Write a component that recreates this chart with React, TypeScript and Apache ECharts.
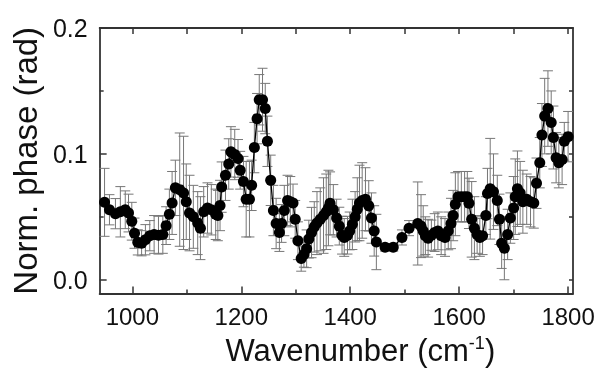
import React, { useEffect, useRef } from "react";
import * as echarts from "echarts";

const wavenumbers = [
  949, 958, 969, 978, 987, 993, 999, 1004, 1010, 1017, 1024, 1032, 1040, 1048, 1056, 1062, 1068, 1073, 1079, 1087,
  1094, 1099, 1105, 1112, 1120, 1125, 1131, 1138, 1145, 1153, 1157, 1161, 1164, 1171, 1177, 1181, 1188, 1194, 1198, 1204,
  1209, 1215, 1219, 1224, 1229, 1233, 1239, 1244, 1248, 1254, 1259, 1264, 1270, 1274, 1279, 1285, 1290, 1295, 1299, 1304,
  1310, 1315, 1320, 1324, 1329, 1334, 1339, 1345, 1351, 1356, 1360, 1363, 1369, 1375, 1380, 1385, 1389, 1395, 1399, 1404,
  1409, 1413, 1417, 1422, 1428, 1434, 1439, 1444, 1448, 1464, 1479, 1495, 1508, 1524, 1530, 1534, 1538, 1543, 1549, 1555,
  1561, 1567, 1574, 1580, 1585, 1589, 1593, 1598, 1604, 1610, 1615, 1618, 1623, 1628, 1633, 1638, 1643, 1649, 1652, 1657,
  1663, 1670, 1674, 1678, 1683, 1689, 1694, 1700, 1703, 1707, 1712, 1717, 1724, 1731, 1737, 1742, 1748, 1752, 1757, 1763,
  1769, 1773, 1778, 1783, 1789, 1793, 1800,
];

const phase = [
  0.0615, 0.0556, 0.0525, 0.054, 0.0556, 0.053, 0.0465, 0.037, 0.0297, 0.029, 0.0318, 0.035, 0.036, 0.0354, 0.036, 0.043, 0.052, 0.061, 0.073, 0.0716,
  0.069, 0.062, 0.053, 0.05, 0.045, 0.041, 0.054, 0.057, 0.0556, 0.052, 0.051, 0.059, 0.0736, 0.083, 0.092, 0.1016, 0.0995, 0.0964, 0.087, 0.078,
  0.064, 0.064, 0.075, 0.105, 0.128, 0.143, 0.143, 0.136, 0.11, 0.079, 0.055, 0.0447, 0.0375, 0.0447, 0.055, 0.063, 0.062, 0.061, 0.048, 0.031,
  0.0168, 0.02, 0.0246, 0.0323, 0.0375, 0.042, 0.045, 0.048, 0.051, 0.054, 0.057, 0.0607, 0.0556, 0.049, 0.0426, 0.0354, 0.0336, 0.0354, 0.0388, 0.044,
  0.05, 0.056, 0.061, 0.063, 0.064, 0.0587, 0.049, 0.0388, 0.03, 0.0258, 0.0258, 0.0336, 0.041, 0.0447, 0.0426, 0.0388, 0.035, 0.033, 0.0354, 0.0375,
  0.0388, 0.035, 0.0336, 0.0388, 0.0447, 0.051, 0.06, 0.066, 0.066, 0.066, 0.066, 0.0607, 0.048, 0.041, 0.036, 0.0336, 0.035, 0.051, 0.0685, 0.0723,
  0.07, 0.063, 0.048, 0.029, 0.025, 0.036, 0.049, 0.057, 0.066, 0.0723, 0.069, 0.062, 0.064, 0.062, 0.061, 0.0767, 0.093, 0.115, 0.13, 0.136,
  0.125, 0.113, 0.097, 0.093, 0.0956, 0.11, 0.1137,
];

const phaseErr = [
  0.027, 0.012, 0.012, 0.02, 0.015, 0.015, 0.015, 0.012, 0.01, 0.01, 0.012, 0.012, 0.015, 0.015, 0.015, 0.015, 0.02, 0.025, 0.022, 0.045,
  0.045, 0.03, 0.03, 0.025, 0.025, 0.025, 0.02, 0.02, 0.02, 0.02, 0.02, 0.02, 0.02, 0.02, 0.02, 0.02, 0.02, 0.015, 0.015, 0.02,
  0.03, 0.03, 0.02, 0.02, 0.02, 0.02, 0.025, 0.02, 0.02, 0.02, 0.02, 0.02, 0.015, 0.015, 0.02, 0.02, 0.02, 0.015, 0.015, 0.015,
  0.01, 0.01, 0.015, 0.015, 0.02, 0.02, 0.025, 0.025, 0.03, 0.03, 0.03, 0.025, 0.02, 0.015, 0.015, 0.015, 0.015, 0.015, 0.015, 0.02,
  0.02, 0.025, 0.03, 0.03, 0.025, 0.02, 0.02, 0.02, 0.022, 0.003, 0.003, 0.006, 0.006, 0.033, 0.025, 0.02, 0.015, 0.015, 0.012, 0.015,
  0.015, 0.015, 0.015, 0.015, 0.02, 0.02, 0.025, 0.02, 0.02, 0.02, 0.02, 0.02, 0.03, 0.025, 0.015, 0.015, 0.015, 0.015, 0.02, 0.04,
  0.03, 0.02, 0.02, 0.02, 0.025, 0.02, 0.02, 0.025, 0.03, 0.03, 0.025, 0.025, 0.02, 0.02, 0.02, 0.02, 0.02, 0.025, 0.03, 0.03,
  0.025, 0.025, 0.02, 0.02, 0.02, 0.015, 0.02,
];

const xMajorTicks = [1000, 1200, 1400, 1600, 1800];
const xMinorTicks = [1100, 1300, 1500, 1700];
const yMajorTicks = [0, 0.1, 0.2];
const yMinorTicks = [0.05, 0.15];

const X_MIN = 940;
const X_MAX = 1809;
const Y_MIN = -0.011;
const Y_MAX = 0.2;

const FONT = "'Liberation Sans', Arial, sans-serif";
const AXIS_COLOR = "#333";
const TEXT_COLOR = "#111";

export default function App() {
  const ref = useRef<HTMLDivElement>(null);

  useEffect(() => {
    if (!ref.current) return;
    const chart = echarts.init(ref.current, undefined, { renderer: "svg" });

    const lineStyle = { color: AXIS_COLOR, width: 1.8 };
    const tickStyle = { color: AXIS_COLOR, width: 1.5 };

    const mkX = (position: string, ticks: number[], len: number, showLine: boolean, extra: any = {}) => ({
      type: "value",
      position,
      min: X_MIN,
      max: X_MAX,
      axisLine: { show: showLine, onZero: false, lineStyle },
      axisTick: { show: true, inside: true, length: len, customValues: ticks, lineStyle: tickStyle },
      axisLabel: { show: false },
      splitLine: { show: false },
      ...extra,
    });
    const mkY = (position: string, ticks: number[], len: number, showLine: boolean, extra: any = {}) => ({
      type: "value",
      position,
      min: Y_MIN,
      max: Y_MAX,
      axisLine: { show: showLine, onZero: false, lineStyle },
      axisTick: { show: true, inside: true, length: len, customValues: ticks, lineStyle: tickStyle },
      axisLabel: { show: false },
      splitLine: { show: false },
      ...extra,
    });

    const errData = wavenumbers.map((w, i) => [w, phase[i], phaseErr[i]]);
    const ptData = wavenumbers.map((w, i) => [w, phase[i]]);

    chart.setOption({
      animation: false,
      grid: { left: 94, right: 27, top: 28, bottom: 72, containLabel: false },
      xAxis: [
        mkX("bottom", xMajorTicks, 7, true, {
          axisLabel: {
            show: true,
            customValues: xMajorTicks,
            formatter: (v: number) => String(Math.round(v)),
            fontSize: 24,
            fontFamily: FONT,
            color: TEXT_COLOR,
            margin: 11,
          },
          name: "{a|Wavenumber (cm}{s|-1}{a|)}",
          nameLocation: "middle",
          nameGap: 36,
          nameTextStyle: {
            padding: [0, 0, 0, 48],
            rich: {
              a: { fontSize: 31, fontFamily: FONT, color: TEXT_COLOR, lineHeight: 34 },
              s: { fontSize: 18, fontFamily: FONT, color: TEXT_COLOR, lineHeight: 18, verticalAlign: "top" },
            },
          },
        }),
        mkX("bottom", xMinorTicks, 4, false),
        mkX("top", xMajorTicks, 6, true),
        mkX("top", xMinorTicks, 6, false),
      ],
      yAxis: [
        mkY("left", yMajorTicks, 7, true, {
          axisLabel: {
            show: true,
            customValues: yMajorTicks,
            formatter: (v: number) => v.toFixed(1),
            fontSize: 25,
            fontFamily: FONT,
            color: TEXT_COLOR,
            margin: 12,
          },
          name: "Norm. phase (rad)",
          nameLocation: "middle",
          nameRotate: 90,
          nameGap: 52,
          nameTextStyle: { fontSize: 33, fontFamily: FONT, color: TEXT_COLOR, lineHeight: 34 },
        }),
        mkY("left", yMinorTicks, 4, false),
        mkY("right", [0, 0.05, 0.1, 0.15, 0.2], 4, true),
      ],
      series: [
        {
          type: "custom",
          xAxisIndex: 0,
          yAxisIndex: 0,
          z: 1,
          encode: { x: 0, y: 1 },
          data: errData,
          renderItem: (params: any, api: any) => {
            const x = api.value(0);
            const y = api.value(1);
            const e = api.value(2);
            const top = api.coord([x, y + e]);
            const bot = api.coord([x, y - e]);
            const hw = 5;
            const style = { stroke: "#777", lineWidth: 1 };
            return {
              type: "group",
              children: [
                { type: "line", shape: { x1: top[0], y1: top[1], x2: bot[0], y2: bot[1] }, style },
                { type: "line", shape: { x1: top[0] - hw, y1: top[1], x2: top[0] + hw, y2: top[1] }, style },
                { type: "line", shape: { x1: bot[0] - hw, y1: bot[1], x2: bot[0] + hw, y2: bot[1] }, style },
              ],
            };
          },
        },
        {
          type: "line",
          xAxisIndex: 0,
          yAxisIndex: 0,
          z: 3,
          data: ptData,
          symbol: "circle",
          symbolSize: 11,
          itemStyle: { color: "#000" },
          lineStyle: { color: "#000", width: 1.3 },
        },
      ],
    });

    return () => chart.dispose();
  }, []);

  return <div ref={ref} style={{ position: "fixed", left: 0, top: 0, width: 600, height: 371 }} />;
}
